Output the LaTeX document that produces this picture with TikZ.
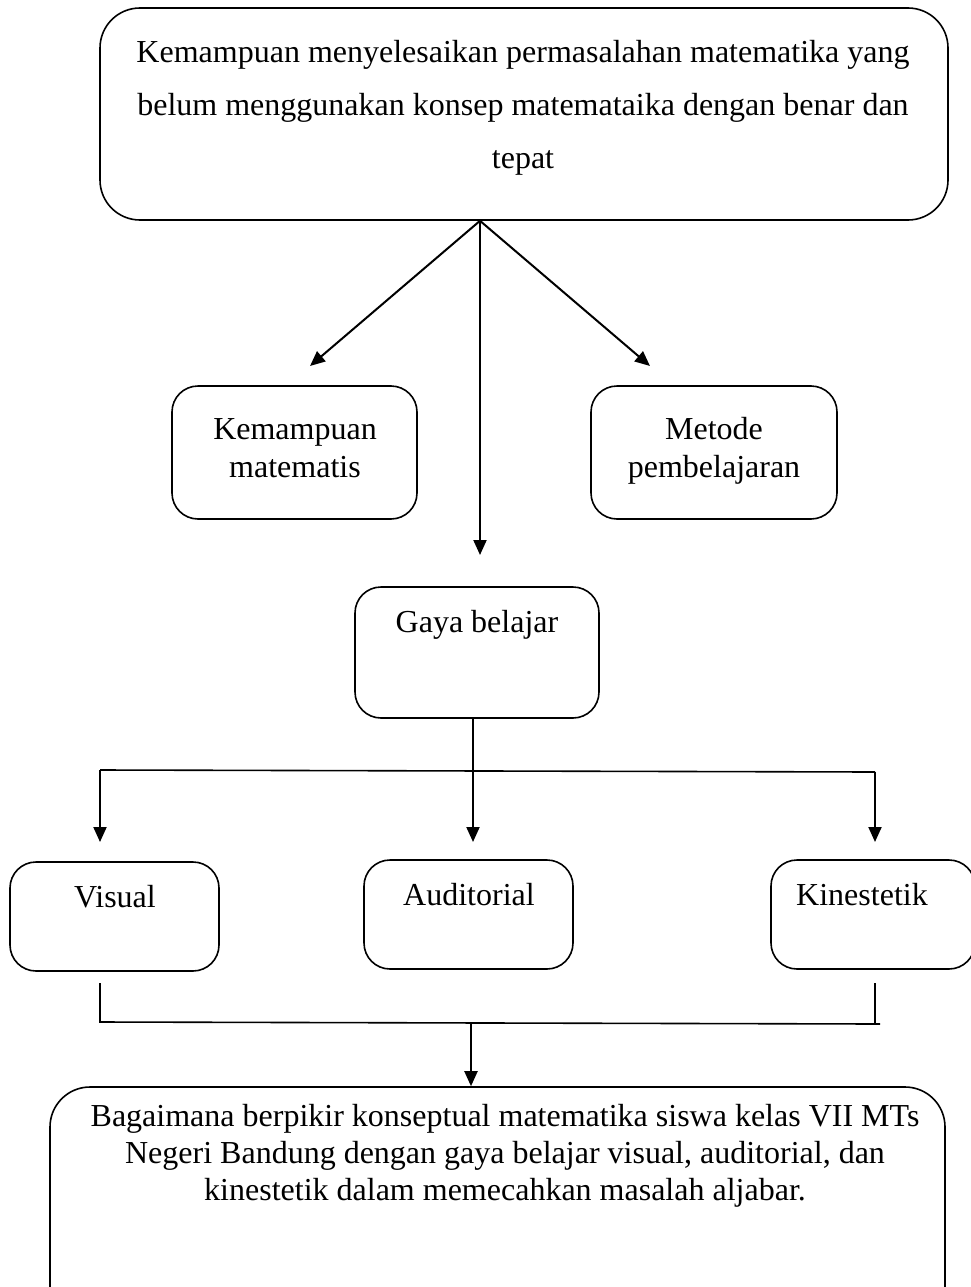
\documentclass[tikz,border=0pt]{standalone}
\usepackage{fontspec}
\setmainfont{Liberation Serif}
\usetikzlibrary{arrows.meta,calc}
\begin{document}
\begin{tikzpicture}[x=1pt,y=-1pt,
  box/.style={draw,line width=1.6pt,rounded corners=26pt,inner sep=0pt},
  txt/.style={inner sep=0pt,align=center,font=\fontsize{32}{38}\selectfont,anchor=base},
  arr/.style={line width=2pt,-{Triangle[length=15pt,width=13pt]}},
  ln/.style={line width=1.6pt}]
\useasboundingbox (0,0) rectangle (971,1287);
% boxes
\node[box,rounded corners=40pt,minimum width=848pt,minimum height=212pt] (top) at (524,114) {};
\node[box,minimum width=245pt,minimum height=133pt] (km) at (294.5,452.5) {};
\node[box,minimum width=246pt,minimum height=133pt] (mp) at (714,452.5) {};
\node[box,minimum width=244pt,minimum height=131pt] (gb) at (477,652.5) {};
\node[box,minimum width=209pt,minimum height=109pt] (vi) at (114.5,916.5) {};
\node[box,minimum width=209pt,minimum height=109pt] (au) at (468.5,914.5) {};
\node[box,minimum width=204pt,minimum height=109pt] (ki) at (873,914.5) {};
\node[box,rounded corners=40pt,minimum width=895pt,minimum height=240pt] (bt) at (497.5,1207) {};
% texts
\node[txt,font=\fontsize{32}{53}\selectfont] (t1) at (523,168) {Kemampuan menyelesaikan permasalahan matematika yang\\belum menggunakan konsep matemataika dengan benar dan\\tepat};
\node[txt] (t2) at (295,477) {Kemampuan\\matematis};
\node[txt] (t3) at (714,477) {Metode\\pembelajaran};
\node[txt] (t4) at (477,632) {Gaya belajar};
\node[txt] (t5) at (115,907) {Visual};
\node[txt] (t6) at (469,905) {Auditorial};
\node[txt] (t7) at (862,905) {Kinestetik};
\node[txt,font=\fontsize{32}{37}\selectfont] (t8) at (505,1200) {Bagaimana berpikir konseptual matematika siswa kelas VII MTs\\Negeri Bandung dengan gaya belajar visual, auditorial, dan\\kinestetik dalam memecahkan masalah aljabar.};
% connectors top
\coordinate (o) at (top.south -| 480,0);
\coordinate (e1) at (310,366);
\coordinate (e2) at (650,366);
\coordinate (e3) at (480,555);
\draw[arr] (o) -- (e1);
\draw[arr] (o) -- (e2);
\draw[arr] (o) -- (e3);
% gaya belajar split
\coordinate (g) at (gb.south -| 473,0);
\coordinate (gj) at (473,771);
\coordinate (hl) at (100,770);
\coordinate (hr) at (875,772);
\draw[ln] (g) -- (gj);
\draw[ln] (hl) -- (hr);
\draw[arr] (hl) -- (100,842);
\draw[arr] (gj) -- (473,842);
\draw[arr] (hr) -- (875,842);
% join
\coordinate (vl) at (100,983);
\coordinate (kl) at (875,983);
\coordinate (jl) at (100,1022);
\coordinate (jr) at (880,1024);
\coordinate (jm) at (471,1023);
\draw[ln] (vl) -- (jl) -- (jr);
\draw[ln] (kl) -- (875,1023);
\draw[arr] (jm) -- (bt.north -| jm);
\end{tikzpicture}
\end{document}
